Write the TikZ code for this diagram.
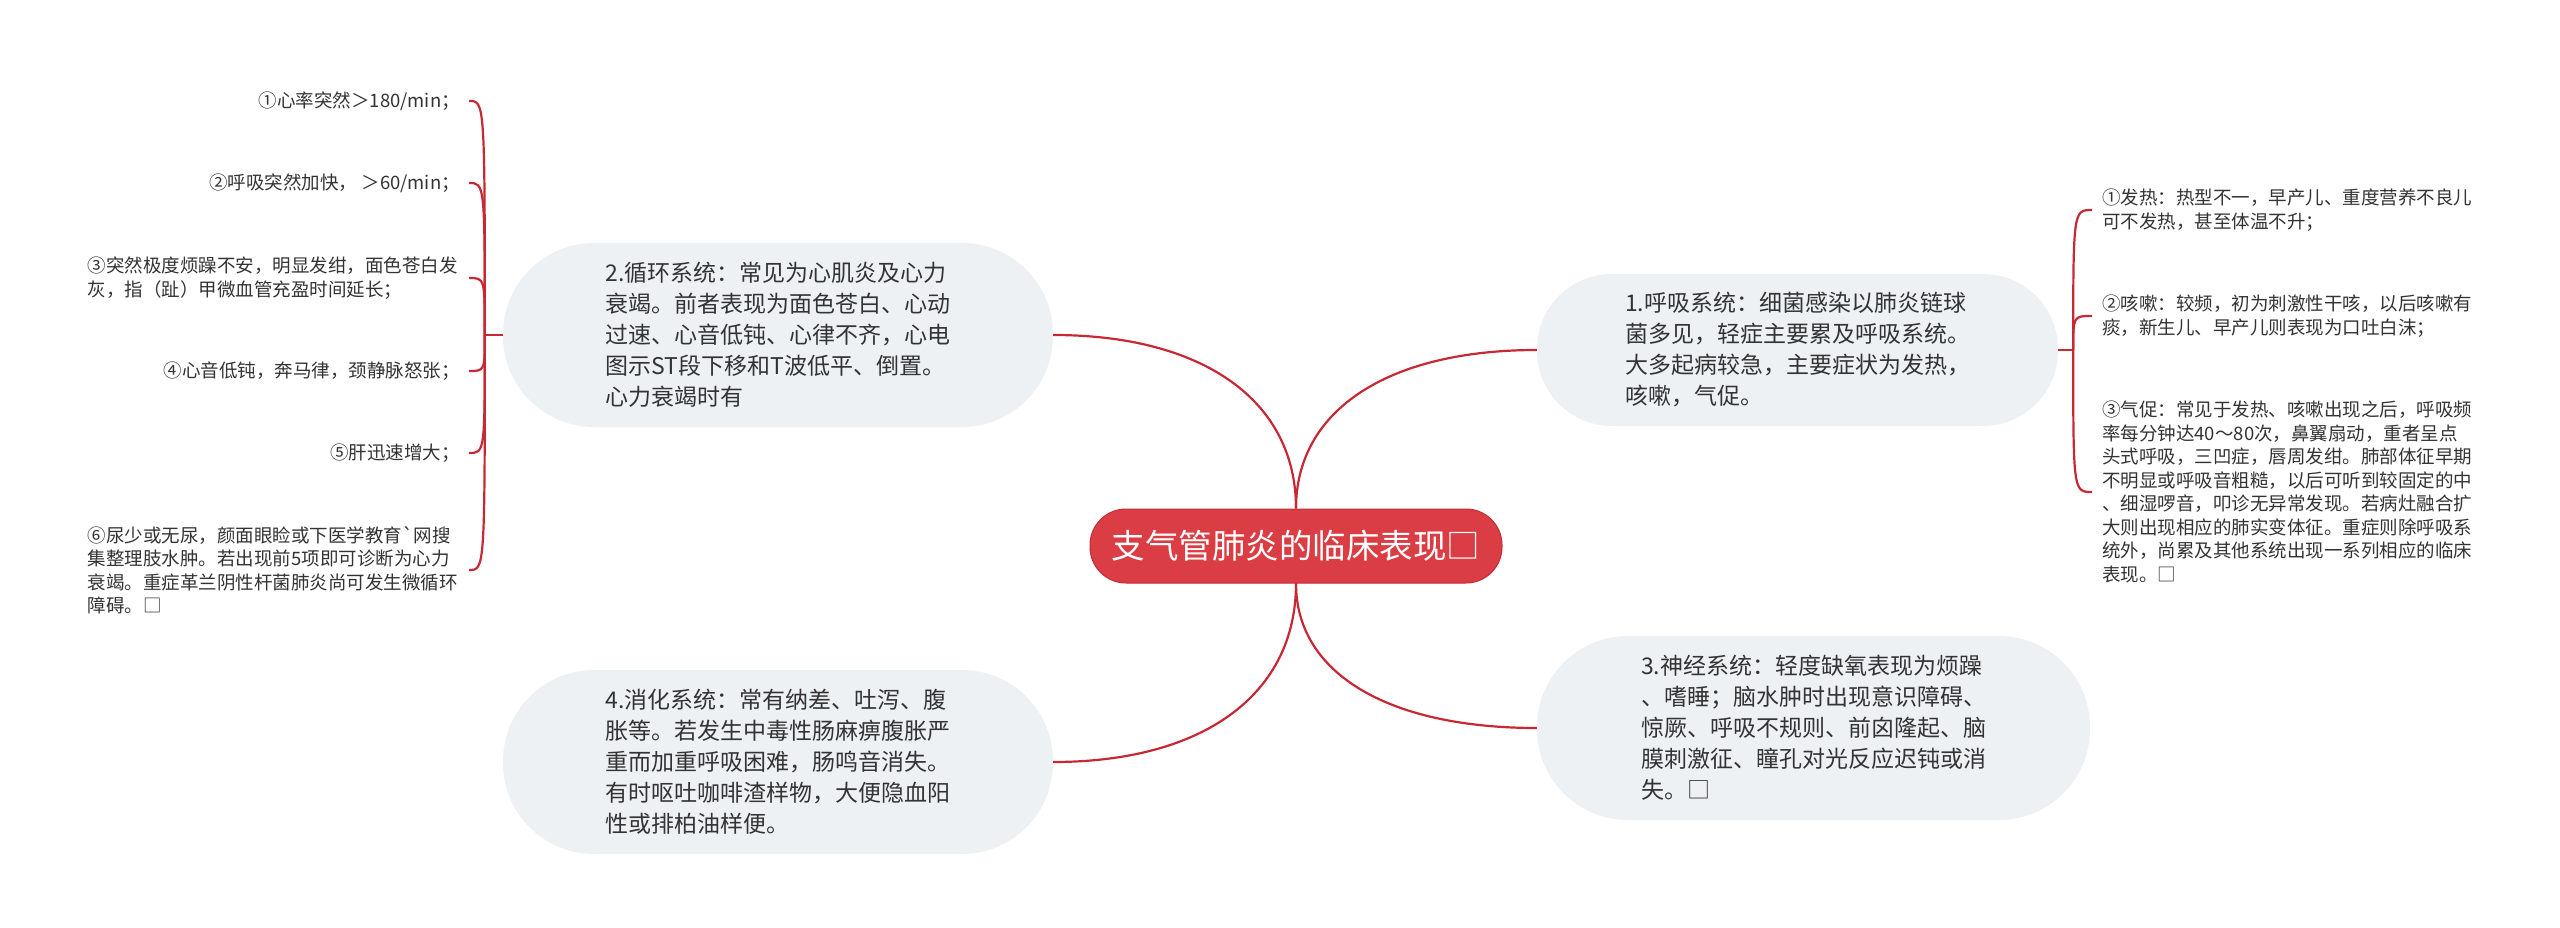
\documentclass[tikz,border=0pt]{standalone}
\usepackage{fontspec}
\newfontfamily\cjk{Noto Sans CJK SC}
\usetikzlibrary{calc}
\definecolor{linered}{RGB}{200,40,52}
\definecolor{rootfill}{RGB}{219,61,69}
\definecolor{rootdraw}{RGB}{196,44,54}
\definecolor{nodegray}{RGB}{238,241,244}
\definecolor{txt}{RGB}{51,51,51}
\begin{document}
\begin{tikzpicture}[x=1pt,y=-1pt,
  conn/.style={draw=linered, line width=2.2pt},
  branch/.style={fill=nodegray, draw=none, rounded corners=#1, inner sep=0pt, align=left, text=txt, font=\cjk\fontsize{23}{31}\selectfont},
  leafL/.style={anchor=east, inner xsep=9pt, inner ysep=0pt, text=txt, font=\cjk\fontsize{18.5}{23.5}\selectfont},
  leafLm/.style={leafL, text width=372pt, align=left},
  leafR/.style={anchor=west, inner xsep=10pt, inner ysep=0pt, text=txt, text width=372pt, align=left, font=\cjk\fontsize{18.5}{23.5}\selectfont},
]
\fill[white] (0,0) rectangle (2560,928);
\useasboundingbox (0,0) rectangle (2560,928);

% root
\node[fill=rootfill, draw=rootdraw, line width=1pt, rounded corners=36pt, minimum width=412pt, minimum height=74pt, inner sep=0pt, text=white, font=\cjk\fontsize{33.5}{40}\selectfont] (root) at (1296,546) {支气管肺炎的临床表现□};

% branches
\node[branch=91pt, minimum width=550pt, minimum height=184pt] (n2) at (778,335) {2.循环系统：常见为心肌炎及心力\\衰竭。前者表现为面色苍白、心动\\过速、心音低钝、心律不齐，心电\\图示ST段下移和T波低平、倒置。\\心力衰竭时有};
\node[branch=75pt, minimum width=521pt, minimum height=152pt] (n1) at (1797.5,350) {1.呼吸系统：细菌感染以肺炎链球\\菌多见，轻症主要累及呼吸系统。\\大多起病较急，主要症状为发热，\\咳嗽，气促。};
\node[branch=91pt, minimum width=553pt, minimum height=184pt] (n3) at (1813.5,728) {3.神经系统：轻度缺氧表现为烦躁\\、嗜睡；脑水肿时出现意识障碍、\\惊厥、呼吸不规则、前囟隆起、脑\\膜刺激征、瞳孔对光反应迟钝或消\\失。□};
\node[branch=91pt, minimum width=550pt, minimum height=184pt] (n4) at (778,762) {4.消化系统：常有纳差、吐泻、腹\\胀等。若发生中毒性肠麻痹腹胀严\\重而加重呼吸困难，肠鸣音消失。\\有时呕吐咖啡渣样物，大便隐血阳\\性或排柏油样便。};

% left leaves
\node[leafL] (l1) at (469,101) {①心率突然＞180/min；};
\node[leafL] (l2) at (469,183) {②呼吸突然加快， ＞60/min；};
\node[leafLm] (l3) at (469,278) {③突然极度烦躁不安，明显发绀，面色苍白发\\灰，指（趾）甲微血管充盈时间延长；};
\node[leafL] (l4) at (469,371) {④心音低钝，奔马律，颈静脉怒张；};
\node[leafL] (l5) at (469,453) {⑤肝迅速增大；};
\node[leafLm] (l6) at (469,570) {⑥尿少或无尿，颜面眼睑或下医学教育`网搜\\集整理肢水肿。若出现前5项即可诊断为心力\\衰竭。重症革兰阴性杆菌肺炎尚可发生微循环\\障碍。□};

% right leaves
\node[leafR] (r1) at (2092,210) {①发热：热型不一，早产儿、重度营养不良儿\\可不发热，甚至体温不升；};
\node[leafR] (r2) at (2092,316) {②咳嗽：较频，初为刺激性干咳，以后咳嗽有\\痰，新生儿、早产儿则表现为口吐白沫；};
\node[leafR] (r3) at (2092,492) {③气促：常见于发热、咳嗽出现之后，呼吸频\\率每分钟达40～80次，鼻翼扇动，重者呈点\\头式呼吸，三凹症，唇周发绀。肺部体征早期\\不明显或呼吸音粗糙，以后可听到较固定的中\\、细湿啰音，叩诊无异常发现。若病灶融合扩\\大则出现相应的肺实变体征。重症则除呼吸系\\统外，尚累及其他系统出现一系列相应的临床\\表现。□};

% root connectors (rounded, vertical start, horizontal end)
\foreach \s/\t/\a in {north/n2/east, north/n1/west, south/n4/east, south/n3/west}
  \draw[conn] (root.\s) .. controls ($(root.\s)!0.62!(root.\s |- \t.\a)$) and ($(\t.\a)!0.62!(root.\s |- \t.\a)$) .. (\t.\a);

% left bracket
\coordinate (j2) at ($(n2.west)+(-18,0)$);
\draw[conn] (n2.west) -- (j2);
\foreach \c in {l1,l2,l3,l4,l5,l6}
  \draw[conn] (j2) .. controls (j2 |- \c.east) .. (\c.east);

% right bracket
\coordinate (j1) at ($(n1.east)+(15,0)$);
\draw[conn] (n1.east) -- (j1);
\foreach \c in {r1,r2,r3}
  \draw[conn] (j1) .. controls (j1 |- \c.west) .. (\c.west);
\end{tikzpicture}
\end{document}
